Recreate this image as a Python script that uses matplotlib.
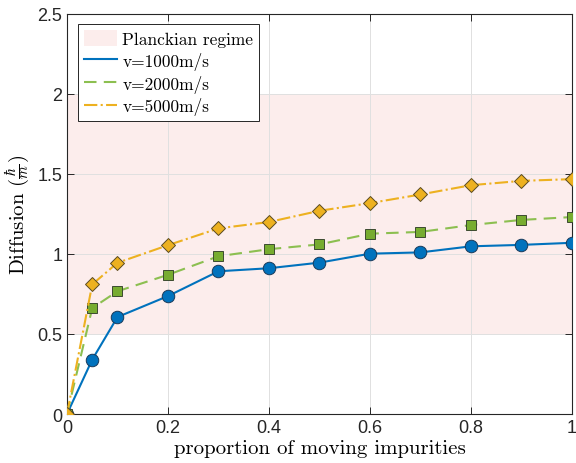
import matplotlib
matplotlib.use("Agg")
import matplotlib.pyplot as plt
from matplotlib.patches import Patch
from matplotlib.lines import Line2D

plt.rcParams["mathtext.fontset"] = "cm"
plt.rcParams["font.family"] = ["Liberation Sans", "DejaVu Sans"]
plt.rcParams["axes.unicode_minus"] = False

# proportion of moving impurities
x = [0, 0.05, 0.1, 0.2, 0.3, 0.4, 0.5, 0.6, 0.7, 0.8, 0.9, 1.0]
d_1000 = [0, 0.34, 0.606, 0.737, 0.892, 0.911, 0.946, 1.002, 1.01, 1.048, 1.057, 1.07]
d_2000 = [0, 0.662, 0.767, 0.87, 0.986, 1.03, 1.06, 1.127, 1.138, 1.181, 1.213, 1.231]
d_5000 = [0, 0.81, 0.945, 1.055, 1.16, 1.2, 1.27, 1.318, 1.372, 1.43, 1.457, 1.468]
band = (0.5, 2.0)  # Planckian regime

blue, green, yellow = "#0072BD", "#77AC30", "#EDB120"
cm_font = ["cmr10", "DejaVu Serif"]

fig = plt.figure(figsize=(5.76, 4.64), dpi=100)
ax = fig.add_axes([0.1163, 0.1056, 0.8767, 0.8621])

ax.axhspan(band[0], band[1], color="#FCEDEC", lw=0, zorder=0)

ax.plot(x, d_1000, "-", color=blue, lw=1.5, marker="o", ms=9,
        mfc=blue, mec="#1a3a5a", mew=0.7, zorder=3)
ax.plot(x, d_2000, "--", color="#8CBF50", lw=1.5, dashes=(6, 3.5), marker="s", ms=6.5,
        mfc=green, mec="#3c4a30", mew=0.7, zorder=3)
ax.plot(x, d_5000, "-.", color=yellow, lw=1.5, marker="D", ms=7.5,
        mfc=yellow, mec="#5a4a20", mew=0.7, zorder=3)

ax.set_xlim(0, 1)
ax.set_ylim(0, 2.5)
ax.set_xticks([0, 0.2, 0.4, 0.6, 0.8, 1])
ax.set_xticklabels(["0", "0.2", "0.4", "0.6", "0.8", "1"])
ax.set_yticks([0, 0.5, 1, 1.5, 2, 2.5])
ax.set_yticklabels(["0", "0.5", "1", "1.5", "2", "2.5"])
ax.grid(True, color="#e0e0e0", lw=0.7, zorder=1)
ax.set_axisbelow(True)
ax.tick_params(direction="in", top=True, right=True, labelsize=13,
               colors="#262626", length=5, width=0.7)
for s in ax.spines.values():
    s.set_color("#262626")
    s.set_linewidth(0.8)

ax.set_xlabel("proportion of moving impurities", fontsize=15, labelpad=2,
              family=cm_font)
ax.set_ylabel(r"Diffusion ($\frac{\hbar}{m}$)", fontsize=15, labelpad=4,
              family=cm_font)

handles = [
    Patch(facecolor="#FCEDEC", edgecolor="none"),
    Line2D([], [], color=blue, lw=1.5),
    Line2D([], [], color="#8CBF50", lw=1.5, dashes=(6, 3.5)),
    Line2D([], [], color=yellow, lw=1.5, ls="-."),
]
labels = ["Planckian regime", "v=1000m/s", "v=2000m/s", "v=5000m/s"]
leg = ax.legend(handles, labels, loc="upper left", bbox_to_anchor=(0.022, 0.975),
                prop={"family": cm_font, "size": 12.5}, frameon=True,
                fancybox=False, framealpha=1, edgecolor="#262626",
                handlelength=1.9, handleheight=1.0, handletextpad=0.3,
                borderpad=0.35, labelspacing=0.28, borderaxespad=0)
leg.get_frame().set_linewidth(0.7)

fig.savefig("out.png", dpi=100)
